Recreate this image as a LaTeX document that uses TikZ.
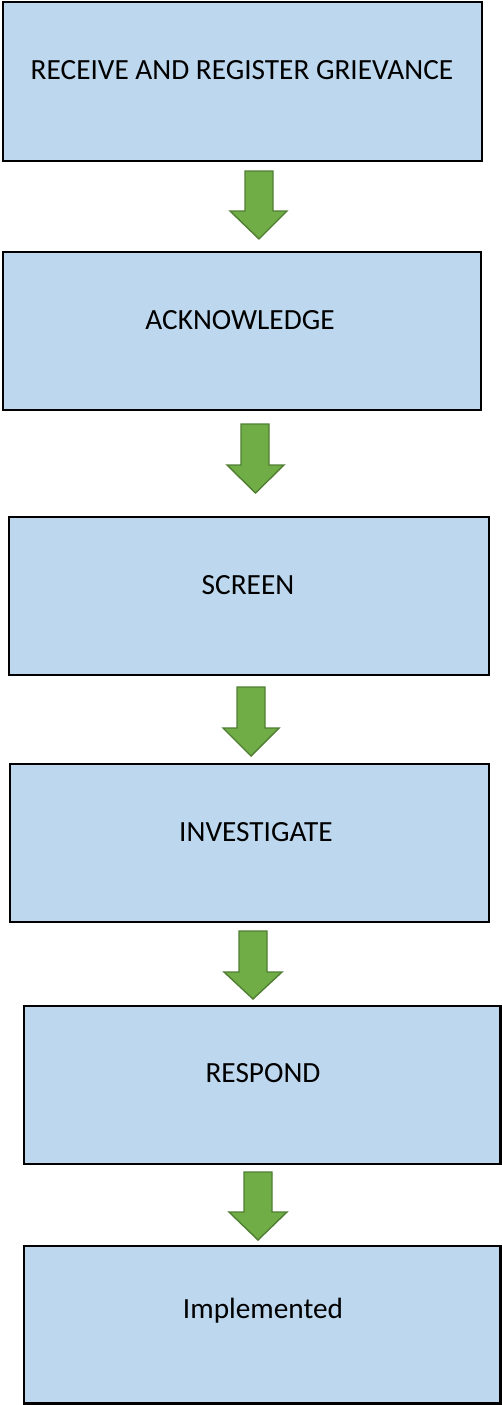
\documentclass[tikz,border=0pt]{standalone}
\usepackage{fontspec}
\setmainfont{Carlito}
\definecolor{boxfill}{HTML}{BDD7EE}
\definecolor{arrowfill}{HTML}{70AD47}
\definecolor{arrowdraw}{HTML}{507E32}
\tikzset{
  stepbox/.style={draw=black, line width=2.6pt, fill=boxfill},
  steplabel/.style={font=\fontsize{29.3}{34}\selectfont, text=black, inner sep=0pt},
  blockarrow/.style={draw=arrowdraw, line width=1.4pt, fill=arrowfill, line join=miter},
}
\begin{document}
\begin{tikzpicture}[x=1pt,y=-1pt]
\useasboundingbox (0,0) rectangle (502,1405);
% boxes
\draw[stepbox] (3,2) rectangle (482,161);
\draw[stepbox] (3,252) rectangle (481,410);
\draw[stepbox] (9,517) rectangle (489,675);
\draw[stepbox] (10,764) rectangle (489,922);
\draw[stepbox] (24,1006) rectangle (500.5,1164);
\draw[stepbox] (24,1246) rectangle (500.5,1403.5);
% labels
\node[steplabel] (t1) at (242,70) {RECEIVE AND REGISTER GRIEVANCE};
\node[steplabel] (t2) at (240,320) {ACKNOWLEDGE};
\node[steplabel] (t3) at (248,585) {SCREEN};
\node[steplabel] (t4) at (256,832) {INVESTIGATE};
\node[steplabel] (t5) at (263,1073) {RESPOND};
\node[steplabel] (t6) at (263,1311) {Implemented};
% arrows
\draw[blockarrow] (245,171) -- (273,171) -- (273,211) -- (287,211) -- (259,239) -- (230,211) -- (245,211) -- cycle;
\draw[blockarrow] (241,424) -- (269,424) -- (269,465) -- (284,465) -- (255.5,493) -- (227,465) -- (241,465) -- cycle;
\draw[blockarrow] (237,687) -- (265,687) -- (265,728) -- (279,728) -- (251,756) -- (223,728) -- (237,728) -- cycle;
\draw[blockarrow] (239,931) -- (267,931) -- (267,972) -- (282,972) -- (253,999) -- (224,972) -- (239,972) -- cycle;
\draw[blockarrow] (244,1172) -- (272,1172) -- (272,1212) -- (287,1212) -- (258,1240) -- (229,1212) -- (244,1212) -- cycle;
\end{tikzpicture}
\end{document}
